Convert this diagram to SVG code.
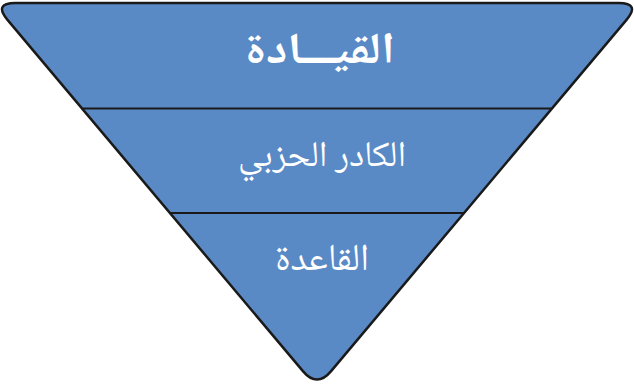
<svg xmlns="http://www.w3.org/2000/svg" width="634" height="384" viewBox="0 0 634 384">
<style>
.shape{fill:#5A8AC6;stroke:#1a1a1a;stroke-width:2.5;stroke-linejoin:round}
.div{stroke:#1a1a1a;stroke-width:2.2}
.t{fill:#ffffff;font-family:"Noto Naskh Arabic","Noto Sans Arabic","DejaVu Sans",sans-serif;text-anchor:middle;direction:rtl}
</style>
<g id="pyramid">
<path class="shape" d="M 15.4,3 L 618.6,3 Q 640.6,3 626.5,19.9 L 331.1,371.1 Q 317,388 302.9,371.1 L 7.5,19.9 Q -6.6,3 15.4,3 Z"/>
</g>
<g id="connectors">
<line class="div" x1="83" y1="108.5" x2="551" y2="108.5"/>
<line class="div" x1="170" y1="213" x2="464" y2="213"/>
</g>
<g id="node-leadership">
<text class="t" x="320" y="63" font-size="44" font-weight="bold" textLength="150" lengthAdjust="spacingAndGlyphs">القيـــادة</text>
</g>
<g id="node-cadre">
<text class="t" x="322" y="166" font-size="36">الكادر الحزبي</text>
</g>
<g id="node-base">
<text class="t" x="322" y="270" font-size="38">القاعدة</text>
</g>
</svg>
